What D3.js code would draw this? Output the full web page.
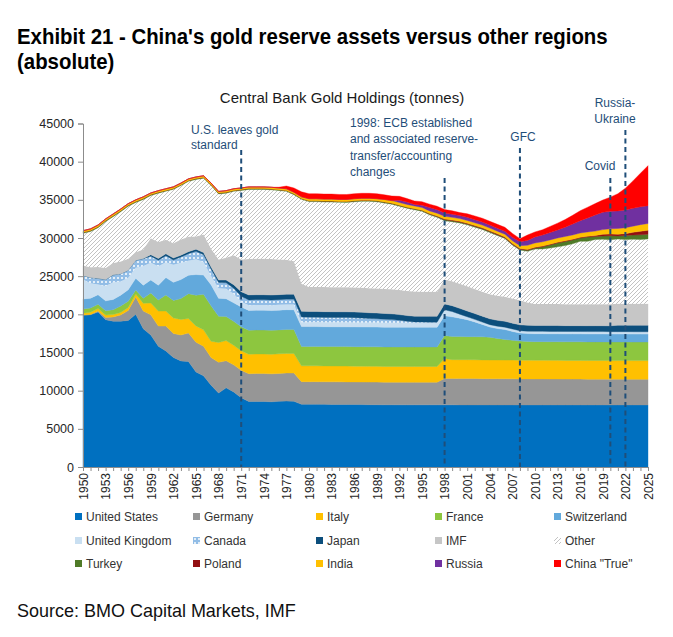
<!DOCTYPE html>
<html>
<head>
<meta charset="utf-8">
<script src="https://cdn.jsdelivr.net/npm/d3@7"></script>
<style>
  body { margin: 0; background: #fff; }
  svg { display: block; }
  text { font-family: "Liberation Sans", Arial, sans-serif; }
</style>
</head>
<body>
<script>
// years on the x axis, one point per year
var years = d3.range(1950, 2026);

// tonnes (1950 ... 2025)
var unitedStates = [
  19900, 19950, 20300, 19300, 19100, 19100, 19200, 20000, 18100, 17300,
  15822, 15206, 14353, 13898, 13810, 12450, 11940, 10720, 9680, 10370,
  9840, 9070, 8585, 8585, 8585, 8545, 8600, 8630, 8600, 8220,
  8220, 8222, 8208, 8200, 8195, 8190, 8185, 8175, 8165, 8160,
  8146, 8146, 8142, 8140, 8140, 8140, 8140, 8140, 8140, 8139,
  8138, 8137, 8137, 8136, 8136, 8136, 8136, 8134, 8134, 8134,
  8134, 8134, 8134, 8134, 8134, 8134, 8134, 8134, 8134, 8134,
  8134, 8134, 8134, 8134, 8134, 8134
];
var germany = [
  0, 30, 140, 290, 560, 820, 1300, 2260, 2340, 2630,
  2640, 3250, 3150, 3390, 3760, 3890, 3890, 3620, 4040, 3550,
  3540, 3610, 3640, 3660, 3660, 3660, 3660, 3690, 3710, 2960,
  2960, 2960, 2960, 2960, 2960, 2960, 2960, 2960, 2960, 2960,
  2960, 2960, 2960, 2960, 2960, 2960, 2960, 2960, 3470, 3470,
  3470, 3470, 3460, 3440, 3430, 3430, 3420, 3420, 3410, 3410,
  3400, 3400, 3390, 3390, 3380, 3380, 3380, 3370, 3370, 3370,
  3360, 3360, 3360, 3350, 3350, 3350
];
var italy = [
  227, 296, 310, 310, 310, 313, 400, 405, 1000, 1570,
  1960, 1970, 2030, 2040, 1880, 2140, 2140, 2130, 2590, 2640,
  2560, 2560, 2560, 2560, 2560, 2560, 2560, 2560, 2560, 2070,
  2070, 2070, 2070, 2070, 2070, 2070, 2070, 2070, 2070, 2070,
  2070, 2070, 2070, 2070, 2070, 2070, 2070, 2070, 2590, 2452,
  2452, 2452, 2452, 2452, 2452, 2452, 2452, 2452, 2452, 2452,
  2452, 2452, 2452, 2452, 2452, 2452, 2452, 2452, 2452, 2452,
  2452, 2452, 2452, 2452, 2452, 2452
];
var france = [
  588, 548, 573, 576, 634, 861, 824, 519, 670, 1290,
  1460, 2120, 2290, 2730, 3260, 4030, 4650, 4650, 3450, 3140,
  3140, 3140, 3140, 3140, 3140, 3140, 3140, 3140, 3140, 2550,
  2550, 2550, 2550, 2550, 2550, 2550, 2550, 2550, 2550, 2550,
  2550, 2550, 2550, 2550, 2550, 2550, 2550, 2550, 3020, 3020,
  3020, 3020, 3020, 3020, 2990, 2830, 2710, 2590, 2510, 2440,
  2435, 2435, 2435, 2435, 2435, 2435, 2435, 2435, 2435, 2435,
  2435, 2435, 2435, 2435, 2435, 2435
];
var switzerland = [
  1306, 1290, 1254, 1297, 1345, 1419, 1490, 1527, 1711, 1719,
  1942, 2275, 2371, 2507, 2422, 2704, 2526, 2746, 2332, 2348,
  2428, 2590, 2590, 2590, 2590, 2590, 2590, 2590, 2590, 2590,
  2590, 2590, 2590, 2590, 2590, 2590, 2590, 2590, 2590, 2590,
  2590, 2590, 2590, 2590, 2590, 2590, 2590, 2590, 2590, 2590,
  2420, 2220, 1940, 1630, 1330, 1290, 1290, 1170, 1040, 1040,
  1040, 1040, 1040, 1040, 1040, 1040, 1040, 1040, 1040, 1040,
  1040, 1040, 1040, 1040, 1040, 1040
];
var unitedKingdom = [
  2543, 1955, 1333, 1925, 2249, 1788, 1575, 1382, 2495, 2234,
  2489, 2016, 2295, 2208, 1899, 2013, 1724, 1147, 1310, 1307,
  1199, 689, 690, 690, 690, 690, 690, 690, 700, 570,
  585, 590, 590, 590, 590, 590, 590, 590, 590, 590,
  589, 589, 589, 589, 573, 573, 573, 573, 715, 650,
  490, 350, 313, 310, 310, 310, 310, 310, 310, 310,
  310, 310, 310, 310, 310, 310, 310, 310, 310, 310,
  310, 310, 310, 310, 310, 310
];
var canada = [
  516, 748, 787, 858, 954, 1008, 980, 978, 958, 853,
  787, 841, 629, 726, 912, 1023, 930, 902, 767, 775,
  703, 704, 684, 684, 684, 684, 684, 684, 684, 684,
  650, 636, 630, 627, 626, 625, 613, 576, 533, 501,
  459, 403, 309, 188, 121, 106, 96, 96, 77, 56,
  37, 33, 19, 3, 3, 3, 3, 3, 3, 3,
  3, 3, 3, 3, 3, 2, 0, 0, 0, 0,
  0, 0, 0, 0, 0, 0
];
var japan = [
  0, 0, 14, 14, 19, 20, 20, 21, 48, 217,
  220, 255, 257, 257, 270, 292, 292, 300, 316, 367,
  473, 604, 656, 656, 656, 656, 656, 656, 656, 753,
  754, 754, 754, 754, 754, 754, 754, 754, 754, 754,
  754, 754, 754, 754, 754, 754, 754, 754, 754, 754,
  754, 765, 765, 765, 765, 765, 765, 765, 765, 765,
  765, 765, 765, 765, 765, 765, 765, 765, 765, 765,
  765, 846, 846, 846, 846, 846
];
var imf = [
  1328, 1360, 1504, 1513, 1547, 1607, 1504, 1049, 1184, 2140,
  2168, 1846, 1950, 2055, 1937, 1661, 2357, 2384, 2700, 2900,
  3857, 4206, 4700, 4720, 4720, 4720, 4600, 4520, 4300, 3620,
  3217, 3217, 3217, 3217, 3217, 3217, 3217, 3217, 3217, 3217,
  3217, 3217, 3217, 3217, 3217, 3217, 3217, 3217, 3217, 3217,
  3217, 3217, 3217, 3217, 3217, 3217, 3217, 3217, 3217, 3005,
  2814, 2814, 2814, 2814, 2814, 2814, 2814, 2814, 2814, 2814,
  2814, 2814, 2814, 2814, 2814, 2814
];
var other = [
  4200, 4670, 5140, 6070, 6080, 6510, 6860, 6510, 6540, 5610,
  6390, 6350, 7050, 7060, 7270, 7470, 7380, 8280, 8590, 8480,
  8380, 9050, 9120, 9080, 9080, 9070, 9040, 8960, 8730, 11050,
  11170, 11180, 11150, 11160, 11120, 11120, 11220, 11320, 11370, 11360,
  11250, 11150, 10980, 10850, 10730, 10550, 10080, 9760, 7700, 7780,
  7980, 8060, 8100, 8150, 8090, 7890, 7620, 7010, 6580, 6710,
  7190, 7210, 7350, 7500, 7680, 7910, 8240, 8250, 8490, 8520,
  8450, 8480, 8400, 8470, 8430, 8500
];
var turkey = [
  130, 130, 130, 130, 130, 130, 130, 130, 130, 120,
  110, 110, 110, 110, 110, 110, 110, 110, 110, 110,
  116, 116, 116, 116, 116, 116, 116, 116, 116, 116,
  116, 116, 116, 116, 116, 116, 116, 116, 116, 116,
  116, 116, 116, 116, 116, 116, 116, 116, 116, 116,
  116, 116, 116, 116, 116, 116, 116, 116, 116, 116,
  150, 280, 400, 500, 530, 500, 420, 565, 380, 413,
  546, 394, 542, 540, 615, 620
];
var poland = [
  0, 0, 0, 0, 0, 0, 0, 0, 0, 0,
  0, 0, 0, 0, 0, 0, 0, 0, 0, 0,
  0, 0, 0, 0, 0, 0, 0, 0, 0, 0,
  0, 0, 0, 0, 0, 0, 20, 20, 20, 20,
  20, 20, 20, 20, 20, 20, 50, 70, 103, 103,
  103, 103, 103, 103, 103, 103, 103, 103, 103, 103,
  103, 103, 103, 103, 103, 103, 103, 103, 126, 228,
  229, 229, 228, 358, 448, 515
];
var india = [
  220, 220, 220, 220, 220, 220, 220, 220, 220, 220,
  216, 216, 216, 216, 216, 216, 216, 216, 216, 216,
  216, 216, 216, 216, 216, 216, 216, 216, 216, 216,
  267, 267, 267, 267, 267, 267, 267, 267, 267, 267,
  333, 333, 357, 357, 357, 357, 357, 357, 357, 357,
  357, 357, 357, 357, 357, 357, 357, 357, 357, 558,
  558, 558, 558, 558, 558, 558, 558, 558, 587, 618,
  668, 754, 787, 804, 876, 880
];
var russia = [
  0, 0, 0, 0, 0, 0, 0, 0, 0, 0,
  0, 0, 0, 0, 0, 0, 0, 0, 0, 0,
  0, 0, 0, 0, 0, 0, 0, 0, 0, 0,
  0, 0, 0, 0, 0, 0, 0, 0, 0, 0,
  0, 0, 300, 320, 200, 300, 430, 460, 420, 410,
  380, 420, 390, 390, 390, 390, 400, 450, 520, 640,
  790, 880, 960, 1040, 1210, 1420, 1620, 1840, 2110, 2270,
  2300, 2300, 2330, 2330, 2335, 2330
];
var chinaTrue = [
  0, 0, 0, 0, 0, 0, 0, 0, 0, 0,
  0, 0, 0, 0, 0, 0, 0, 0, 0, 0,
  0, 0, 0, 0, 0, 0, 100, 350, 550, 650,
  650, 650, 650, 650, 650, 650, 650, 650, 650, 650,
  600, 600, 500, 450, 450, 450, 450, 450, 450, 450,
  400, 450, 500, 500, 500, 500, 500, 500, 400, 700,
  650, 700, 800, 900, 1000, 1150, 1300, 1400, 1500, 1600,
  1850, 2250, 2850, 3600, 4400, 5250
];

var seriesNames = ['United States', 'Germany', 'Italy', 'France', 'Switzerland',
  'United Kingdom', 'Canada', 'Japan', 'IMF', 'Other',
  'Turkey', 'Poland', 'India', 'Russia', 'China "True"'];
var seriesValues = [unitedStates, germany, italy, france, switzerland,
  unitedKingdom, canada, japan, imf, other,
  turkey, poland, india, russia, chinaTrue];

var yTicks = [0, 5000, 10000, 15000, 20000, 25000, 30000, 35000, 40000, 45000];
var labelYears = years.filter(function(d, i){ return i % 3 === 0; });

// events marked with dashed lines
var eventYears = [1971, 1998, 2008, 2020, 2022];

var colors = {
  'United States': '#0070C0', 'Germany': '#969696', 'Italy': '#FFC000',
  'France': '#8DC63F', 'Switzerland': '#62A9DC', 'United Kingdom': '#C9DFF1',
  'Canada': 'url(#dots)', 'Japan': '#0C4E7C', 'IMF': '#C6C6C6',
  'Other': 'url(#hatch)', 'Turkey': '#4F7B28', 'Poland': '#920F12',
  'India': '#FFC000', 'Russia': '#7030A0', 'China "True"': '#FF0000'
};

var w = 673, h = 637;
var svg = d3.select('body').append('svg')
  .attr('width', w)
  .attr('height', h);
svg.append('rect').attr('width', w).attr('height', h).attr('fill', '#fff');

// patterns for Other and Canada
var defs = svg.append('defs');
var hatch = defs.append('pattern').attr('id', 'hatch')
  .attr('patternUnits', 'userSpaceOnUse').attr('width', 4).attr('height', 4);
hatch.append('rect').attr('width', 4).attr('height', 4).attr('fill', '#fff');
hatch.append('path').attr('d', 'M-1,1 l2,-2 M0,4 l4,-4 M3,5 l2,-2')
  .attr('stroke', '#b4b4b4').attr('stroke-width', 0.8);
var dots = defs.append('pattern').attr('id', 'dots')
  .attr('patternUnits', 'userSpaceOnUse').attr('width', 4).attr('height', 4);
dots.append('rect').attr('width', 4).attr('height', 4).attr('fill', '#92BDE6');
dots.append('circle').attr('cx', 2).attr('cy', 2).attr('r', 1).attr('fill', '#fff');

var x = d3.scaleLinear().domain([1950, 2025]).range([83, 648]);
var y = d3.scaleLinear().domain([0, 45000]).range([467, 123.5]);

// rows for the stack
var rows = years.map(function(yr, i){
  var r = { year: yr };
  seriesNames.forEach(function(n, k){ r[n] = seriesValues[k][i]; });
  return r;
});
var stacked = d3.stack().keys(seriesNames)(rows);

var area = d3.area()
  .x(function(d){ return x(d.data.year); })
  .y0(function(d){ return y(d[0]); })
  .y1(function(d){ return y(d[1]); });

svg.append('g').selectAll('path')
  .data(stacked)
  .enter()
  .append('path')
  .attr('d', area)
  .attr('fill', function(d){ return colors[d.key]; })
  .attr('stroke', function(d){ return colors[d.key].indexOf('url') === 0 ? 'none' : colors[d.key]; })
  .attr('stroke-width', 0.4);

// axes
var yAxis = svg.append('g')
  .attr('transform', 'translate(83,0)')
  .call(d3.axisLeft(y).tickValues(yTicks).tickSize(5).tickPadding(4).tickFormat(d3.format('d')));
yAxis.selectAll('text').attr('font-size', 12.5).attr('fill', '#262626')
  .style('font-family', '"Liberation Sans", Arial, sans-serif');

var xAxis = svg.append('g')
  .attr('transform', 'translate(0,467)')
  .call(d3.axisBottom(x).tickValues(years).tickSize(4)
    .tickFormat(function(d){ return labelYears.indexOf(d) >= 0 ? d : ''; }));
xAxis.selectAll('text')
  .attr('transform', 'rotate(-90)')
  .attr('text-anchor', 'end')
  .attr('x', -6).attr('y', 0).attr('dy', '0.35em')
  .attr('font-size', 12).attr('fill', '#262626')
  .style('font-family', '"Liberation Sans", Arial, sans-serif');

svg.selectAll('.domain, .tick line').attr('stroke', '#8c8c8c');

// event lines
var lineTops = { 1971: 150, 1998: 178, 2008: 148, 2020: 178, 2022: 130 };
svg.append('g').selectAll('line')
  .data(eventYears)
  .enter()
  .append('line')
  .attr('x1', function(d){ return x(d); })
  .attr('x2', function(d){ return x(d); })
  .attr('y1', function(d){ return lineTops[d]; })
  .attr('y2', y(0))
  .attr('stroke', '#1F4E79')
  .attr('stroke-width', 2)
  .attr('stroke-dasharray', '5,3.5');

// event labels
var notes = [
  { x: 191, y: 134, anchor: 'start', t: 'U.S. leaves gold' },
  { x: 191, y: 149, anchor: 'start', t: 'standard' },
  { x: 350, y: 127, anchor: 'start', t: '1998: ECB established' },
  { x: 350, y: 143, anchor: 'start', t: 'and associated reserve-' },
  { x: 350, y: 160, anchor: 'start', t: 'transfer/accounting' },
  { x: 350, y: 176, anchor: 'start', t: 'changes' },
  { x: 523, y: 141, anchor: 'middle', t: 'GFC' },
  { x: 600, y: 170, anchor: 'middle', t: 'Covid' },
  { x: 615, y: 107, anchor: 'middle', t: 'Russia-' },
  { x: 615, y: 123, anchor: 'middle', t: 'Ukraine' }
];
svg.append('g').selectAll('text')
  .data(notes)
  .enter()
  .append('text')
  .attr('x', function(d){ return d.x; })
  .attr('y', function(d){ return d.y; })
  .attr('text-anchor', function(d){ return d.anchor; })
  .attr('font-size', 12)
  .attr('fill', '#1F4E79')
  .text(function(d){ return d.t; });

// chart title
svg.append('text')
  .attr('x', 342).attr('y', 103)
  .attr('text-anchor', 'middle')
  .attr('font-size', 15)
  .attr('fill', '#1a1a1a')
  .text('Central Bank Gold Holdings (tonnes)');

// exhibit title, squeezed to the width of the original
var title = svg.append('g')
  .attr('font-weight', 'bold')
  .attr('font-size', 22)
  .attr('fill', '#000')
  .style('font-family', '"Liberation Sans Narrow", "Liberation Sans", Arial, sans-serif');
var t1 = title.append('text').attr('x', 0).attr('y', 44)
  .style('font-family', 'inherit')
  .text("Exhibit 21 - China's gold reserve assets versus other regions");
title.append('text').attr('x', 0).attr('y', 69)
  .style('font-family', 'inherit')
  .text('(absolute)');
var k = 591 / t1.node().getComputedTextLength();
title.attr('transform', 'translate(17,0) scale(' + k + ',1)');

// legend
var legendCols = [75, 193, 316, 435, 554];
var legendRows = [517, 541, 564];
var legend = svg.append('g').selectAll('g')
  .data(seriesNames)
  .enter()
  .append('g')
  .attr('transform', function(d, i){
    return 'translate(' + legendCols[i % 5] + ',' + legendRows[Math.floor(i / 5)] + ')';
  });
legend.append('rect')
  .attr('x', 0).attr('y', -4)
  .attr('width', 7).attr('height', 7)
  .attr('fill', function(d){ return colors[d]; });
legend.append('text')
  .attr('x', 11).attr('y', 4)
  .attr('font-size', 12)
  .attr('fill', '#333')
  .text(function(d){ return d; });

// source
var source = svg.append('g')
  .attr('font-size', 18)
  .attr('fill', '#111')
  .style('font-family', '"Liberation Sans Narrow", "Liberation Sans", Arial, sans-serif');
var s1 = source.append('text').attr('x', 0).attr('y', 617)
  .style('font-family', 'inherit')
  .text('Source: BMO Capital Markets, IMF');
var ks = 279 / s1.node().getComputedTextLength();
source.attr('transform', 'translate(17,0) scale(' + ks + ',1)');
</script>
</body>
</html>
